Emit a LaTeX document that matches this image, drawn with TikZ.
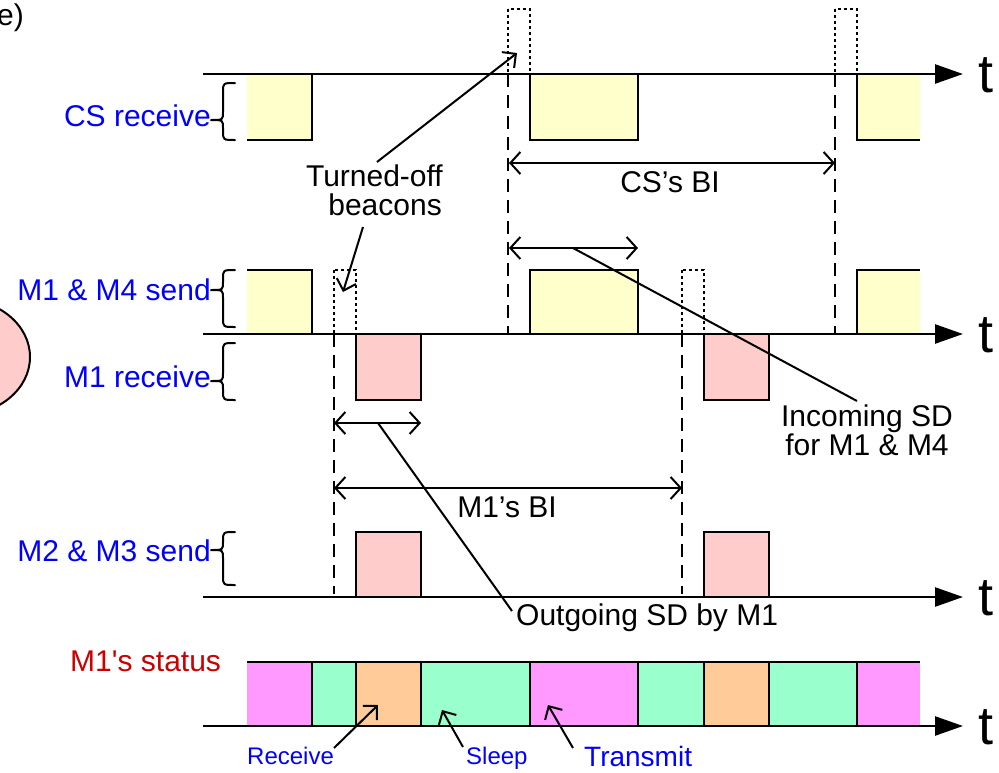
\documentclass[tikz,border=0pt]{standalone}
\usepackage{fontspec}
\setmainfont{Liberation Sans}
\newfontfamily\straightfont{Liberation Sans}[Ligatures=TeXOff]
\usetikzlibrary{arrows.meta}
\definecolor{boxyellow}{HTML}{FFFFCC}
\definecolor{boxpink}{HTML}{FFCCCC}
\definecolor{stmagenta}{HTML}{FF99FF}
\definecolor{stmint}{HTML}{99FFCC}
\definecolor{storange}{HTML}{FFCC99}
\definecolor{labelblue}{HTML}{0000FF}
\definecolor{labelred}{HTML}{CC0000}
\tikzset{
  lbl/.style={font=\fontsize{30}{34}\selectfont, inner sep=0pt},
  bluelbl/.style={lbl, text=labelblue, anchor=base east},
  smalllbl/.style={font=\fontsize{24}{28}\selectfont, inner sep=0pt, text=labelblue, anchor=base west},
  tlbl/.style={font=\fontsize{54}{60}\selectfont, inner sep=0pt, anchor=base west},
  axisline/.style={line width=2.5pt, -{Triangle[length=28pt,width=19pt]}},
  boxline/.style={line width=2pt},
  beacon/.style={line width=2pt, dash pattern=on 3pt off 3pt},
  guide/.style={line width=2pt, dash pattern=on 13pt off 8pt},
  dimline/.style={line width=2pt, {Straight Barb[length=10pt,width=22pt]}-{Straight Barb[length=10pt,width=22pt]}},
  lead/.style={line width=2pt},
  leadarrow/.style={line width=2pt, -{Straight Barb[length=10pt,width=20pt]}},
  bracestyle/.style={line width=2pt, line join=round, line cap=round},
}
\newcommand\drawbrace[3]{%
  \draw[bracestyle] (235,#1) .. controls (223,#1) .. (223,{#1+9}) -- (223,{#2-8})
    .. controls (223,#2) .. (211,#2) .. controls (223,#2) .. (223,{#2+8})
    -- (223,{#3-9}) .. controls (223,#3) .. (235,#3);}
\begin{document}
\begin{tikzpicture}[x=1pt,y=-1pt]
\useasboundingbox (0,0) rectangle (999,772);
\clip (0,0) rectangle (999,772);

% partial ellipse at the left edge
\draw[line width=2pt, fill=boxpink] (-40,357) ellipse [x radius=70, y radius=58];

% figure tag
\node[lbl, anchor=base west] (tag) at (-3,25) {e)};

% ---------- fills ----------
\fill[boxyellow] (247,74) rectangle (312,140);
\fill[boxyellow] (530,74) rectangle (638,140);
\fill[boxyellow] (857,74) rectangle (920,140);
\fill[boxyellow] (247,270) rectangle (312,334);
\fill[boxyellow] (530,270) rectangle (638,334);
\fill[boxyellow] (857,270) rectangle (920,334);
\fill[boxpink] (356,334) rectangle (421,400);
\fill[boxpink] (704,334) rectangle (769,400);
\fill[boxpink] (356,532) rectangle (421,597);
\fill[boxpink] (704,532) rectangle (769,597);

% status bar
\fill[stmagenta] (247,662) rectangle (312,726);
\fill[stmint]    (312,662) rectangle (356,726);
\fill[storange]  (356,662) rectangle (421,726);
\fill[stmint]    (421,662) rectangle (530,726);
\fill[stmagenta] (530,662) rectangle (638,726);
\fill[stmint]    (638,662) rectangle (704,726);
\fill[storange]  (704,662) rectangle (769,726);
\fill[stmint]    (769,662) rectangle (857,726);
\fill[stmagenta] (857,662) rectangle (920,726);
\draw[boxline] (247,662) -- (920,662);
\foreach \bx in {312,356,421,530,638,704,769,857}
  \draw[boxline] (\bx,662) -- (\bx,726);

% ---------- box borders ----------
\draw[boxline] (247,140) -- (312,140) -- (312,74);
\draw[boxline] (530,74) -- (530,140) -- (638,140) -- (638,74);
\draw[boxline] (857,74) -- (857,140) -- (920,140);
\draw[boxline] (247,270) -- (312,270) -- (312,334);
\draw[boxline] (530,334) -- (530,270) -- (638,270) -- (638,334);
\draw[boxline] (857,334) -- (857,270) -- (920,270);
\draw[boxline] (356,334) -- (356,400) -- (421,400) -- (421,334);
\draw[boxline] (704,334) -- (704,400) -- (769,400) -- (769,334);
\draw[boxline] (356,597) -- (356,532) -- (421,532) -- (421,597);
\draw[boxline] (704,597) -- (704,532) -- (769,532) -- (769,597);

% turned-off beacons (dotted)
\draw[beacon] (508,9) rectangle (530,74);
\draw[beacon] (835,9) rectangle (857,74);
\draw[beacon] (334,270) rectangle (356,334);
\draw[beacon] (682,270) rectangle (704,334);

% dashed guides
\draw[guide] (508,74) -- (508,334);
\draw[guide] (835,74) -- (835,334);
\draw[guide] (334,334) -- (334,594);
\draw[guide] (682,334) -- (682,594);

% ---------- axes ----------
\node[tlbl] (t1) at (978,92) {t};
\node[tlbl] (t2) at (978,352) {t};
\node[tlbl] (t3) at (978,615) {t};
\node[tlbl] (t4) at (978,744) {t};
\draw[axisline] (203,74) -- (963,74);
\draw[axisline] (203,334) -- (963,334);
\draw[axisline] (203,597) -- (963,597);
\draw[axisline] (203,726) -- (963,726);

% ---------- braces and row labels ----------
\drawbrace{83}{120}{140}
\drawbrace{270}{290}{327}
\drawbrace{343}{381}{400}
\drawbrace{532}{550}{585}
\node[bluelbl] (csrecv) at (211,126) {CS receive};
\node[bluelbl] (m14send) at (211,300) {M1 \& M4 send};
\node[bluelbl] (m1recv) at (211,387) {M1 receive};
\node[bluelbl] (m23send) at (211,561) {M2 \& M3 send};
\node[lbl, text=labelred, anchor=base west] (status) at (70,671) {\straightfont M1's status};

% ---------- dimension arrows ----------
\coordinate (csbiL) at (509,163);
\coordinate (csbiR) at (835,163);
\draw[dimline] (csbiL) -- (csbiR);
\node[lbl, anchor=base] (csbi) at (670,192) {CS’s BI};

\coordinate (inL) at (509,248);
\coordinate (inR) at (638,248);
\draw[dimline] (inL) -- (inR);

\coordinate (outL) at (334,423);
\coordinate (outR) at (421,423);
\draw[dimline] (outL) -- (outR);

\coordinate (m1biL) at (334,488);
\coordinate (m1biR) at (682,488);
\draw[dimline] (m1biL) -- (m1biR);
\node[lbl, anchor=base] (m1bi) at (507,517) {M1’s BI};

% ---------- annotations ----------
\node[lbl, anchor=base east] (turned) at (443,186) {Turned-off};
\node[lbl, anchor=base east] (beacons) at (442,215) {beacons};
\coordinate (turnA) at (377,162);
\coordinate (turnTip1) at (517,53);
\coordinate (turnB) at (363,227);
\coordinate (turnTip2) at (343,292);
\draw[leadarrow] (turnA) -- (turnTip1);
\draw[leadarrow] (turnB) -- (turnTip2);

\node[lbl, anchor=base] (inc1) at (867,426) {Incoming SD};
\node[lbl, anchor=base] (inc2) at (867,455) {for M1 \& M4};
\coordinate (incFrom) at (573,248);
\coordinate (incTo) at (857,401);
\draw[lead] (incFrom) -- (incTo);

\node[lbl, anchor=base west] (outg) at (516,625) {Outgoing SD by M1};
\coordinate (outFrom) at (378,423);
\coordinate (outTo) at (512,611);
\draw[lead] (outFrom) -- (outTo);

% status legend
\node[smalllbl] (recv) at (247,764) {Receive};
\node[smalllbl] (sleep) at (466,764) {Sleep};
\node[smalllbl, font=\fontsize{28}{32}\selectfont] (trans) at (584,766) {Transmit};
\coordinate (recvFrom) at (334,748);
\coordinate (recvTip) at (378,705);
\coordinate (sleepFrom) at (463,747);
\coordinate (sleepTip) at (442,710);
\coordinate (transFrom) at (573,748);
\coordinate (transTip) at (548,705);
\draw[leadarrow] (recvFrom) -- (recvTip);
\draw[leadarrow] (sleepFrom) -- (sleepTip);
\draw[leadarrow] (transFrom) -- (transTip);
\end{tikzpicture}
\end{document}
